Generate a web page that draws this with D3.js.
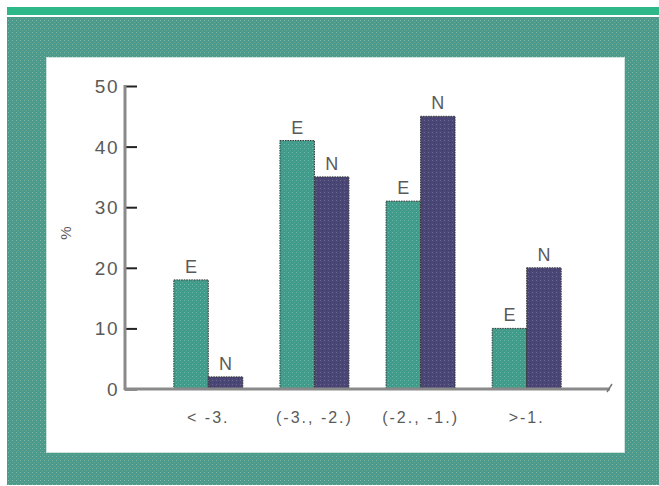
<!DOCTYPE html>
<html><head><meta charset="utf-8">
<script src="https://cdn.jsdelivr.net/npm/d3@7"></script>
<style>html,body{margin:0;padding:0;background:#fff;}svg{display:block;}</style>
</head><body>
<script>
const categories = ["< -3.", "(-3., -2.)", "(-2., -1.)", ">-1."];
const seriesNames = ["E", "N"];
const valuesE = [18, 41, 31, 10];
const valuesN = [2, 35, 45, 20];
const yTicks = [0, 10, 20, 30, 40, 50];
const yLabel = "%";

const W = 659, H = 486;
const svg = d3.select("body").append("svg").attr("width", W).attr("height", H);
const defs = svg.append("defs");

function dotPattern(id, base, dot1, dot2) {
  const p = defs.append("pattern").attr("id", id).attr("width", 4).attr("height", 4)
    .attr("patternUnits", "userSpaceOnUse");
  p.append("rect").attr("width", 4).attr("height", 4).attr("fill", base);
  p.append("rect").attr("x", 0).attr("y", 0).attr("width", 1).attr("height", 1).attr("fill", dot1);
  p.append("rect").attr("x", 2).attr("y", 2).attr("width", 1).attr("height", 1).attr("fill", dot2);
}
dotPattern("frameP", "#4b9a8e", "#80b9aa", "#6aa88c");
dotPattern("tealP", "#3f9c8c", "#6fbaa8", "#5aa890");
dotPattern("purpP", "#4a4776", "#6a6890", "#3e3b66");

// background frame
svg.append("rect").attr("x", 7).attr("y", 7).attr("width", W - 7).attr("height", 8).attr("fill", "#2db88a");
svg.append("rect").attr("x", 7).attr("y", 17).attr("width", W - 7).attr("height", 468).attr("fill", "url(#frameP)");
svg.append("rect").attr("x", 46).attr("y", 57).attr("width", 579).attr("height", 396).attr("fill", "#cfe3de");
svg.append("rect").attr("x", 47).attr("y", 58).attr("width", 577).attr("height", 394).attr("fill", "#ffffff");

const font = "Liberation Sans, Arial, Helvetica, sans-serif";
const textCol = "#5a5a5a";

const x = d3.scaleBand().domain(categories).range([125, 610]).paddingInner(0.35).paddingOuter(0.46);
const xs = d3.scaleBand().domain(seriesNames).range([0, x.bandwidth()]);
const y = d3.scaleLinear().domain([0, 50]).range([389, 86]);

const data = [];
categories.forEach((c, i) => {
  data.push({cat: c, s: "E", v: valuesE[i]});
  data.push({cat: c, s: "N", v: valuesN[i]});
});

const g = svg.append("g");
g.selectAll("rect.bar").data(data).enter().append("rect").attr("class", "bar")
  .attr("x", d => x(d.cat) + xs(d.s))
  .attr("y", d => y(d.v))
  .attr("width", xs.bandwidth())
  .attr("height", d => y(0) - y(d.v))
  .attr("fill", d => d.s === "E" ? "url(#tealP)" : "url(#purpP)")
  .attr("stroke", "#333").attr("stroke-width", 1).attr("stroke-dasharray", "1.5,1");

g.selectAll("text.blab").data(data).enter().append("text").attr("class", "blab")
  .attr("x", d => x(d.cat) + xs(d.s) + xs.bandwidth() / 2)
  .attr("y", d => y(d.v) - 7)
  .attr("text-anchor", "middle")
  .attr("font-family", font).attr("font-size", 18).attr("fill", textCol)
  .text(d => d.s);

// y axis
const yAxis = d3.axisRight(y).tickValues(yTicks).tickSize(12).tickFormat("");
const ya = svg.append("g").attr("transform", "translate(125,0)").call(yAxis);
ya.select(".domain").remove();
ya.selectAll(".tick line").attr("stroke", "#222").attr("stroke-width", 2);
svg.append("line").attr("x1", 125).attr("x2", 125).attr("y1", 85).attr("y2", 390)
  .attr("stroke", "#8a8a8a").attr("stroke-width", 3);
svg.append("g").selectAll("text").data(yTicks).enter().append("text")
  .attr("x", 119).attr("y", d => y(d) + 7)
  .attr("text-anchor", "end")
  .attr("font-family", font).attr("font-size", 19).attr("fill", textCol)
  .attr("letter-spacing", 1.5)
  .text(d => d);

// x axis
svg.append("line").attr("x1", 124).attr("x2", 610).attr("y1", 389).attr("y2", 389)
  .attr("stroke", "#8a8a8a").attr("stroke-width", 3);
svg.append("line").attr("x1", 607).attr("x2", 612).attr("y1", 392).attr("y2", 384)
  .attr("stroke", "#777").attr("stroke-width", 1.5);

const xAxis = d3.axisBottom(x).tickSize(0);
const xa = svg.append("g").attr("transform", "translate(0,389)").call(xAxis);
xa.select(".domain").remove();
xa.selectAll(".tick text").attr("dy", 0).attr("y", 34)
  .attr("font-family", font).attr("font-size", 16).attr("fill", textCol)
  .attr("letter-spacing", 2);

svg.append("text").attr("transform", "translate(71,233) rotate(-90)")
  .attr("text-anchor", "middle")
  .attr("font-family", font).attr("font-size", 15).attr("fill", textCol)
  .text(yLabel);
</script>
</body></html>
